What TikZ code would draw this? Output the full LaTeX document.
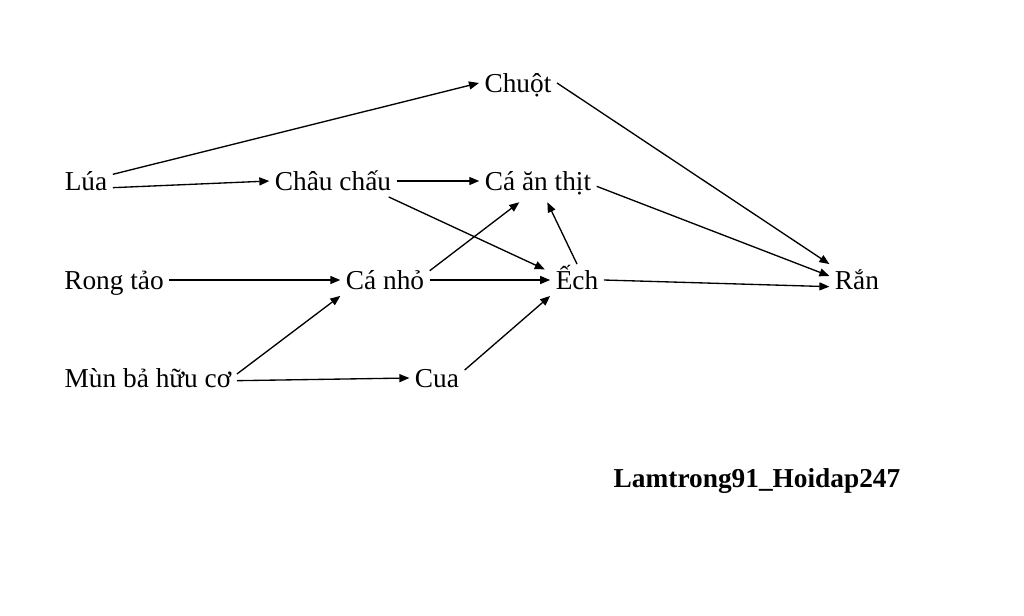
\documentclass[tikz,border=0pt]{standalone}
\usepackage{fontspec}
\setmainfont{Liberation Serif}
\usetikzlibrary{arrows.meta}

\begin{document}
\begin{tikzpicture}[x=0.75pt, y=-0.75pt, font=\fontsize{20.5}{24}\selectfont,
  lbl/.style={anchor=base, text height=13.5pt, text depth=0pt, inner xsep=4pt, inner ysep=5pt},
  arr/.style={-{Triangle[length=7.5pt,width=6pt]}, line width=1pt}]
  \useasboundingbox (0,0) rectangle (1024,615);
  % Species (name/x/baseline/label)
  \foreach \n/\x/\y/\t in {
    chuot/518/92/Chuột,
    lua/86/190/Lúa, chau/333/190/Châu chấu, caan/538/190/Cá ăn thịt,
    rong/114/289/Rong tảo, canho/385/289/Cá nhỏ, ech/577/289/Ếch, ran/857/289/Rắn,
    mun/148/387/Mùn bả hữu cơ, cua/437/387/Cua
  } {
    \node[lbl] (\n) at (\x,\y) {\t};
  }
  % Watermark
  \node[anchor=base, font=\fontsize{20.5}{24}\selectfont\bfseries] (sign) at (757,487) {Lamtrong91\_Hoidap247};
  % Row 1 and 2
  \draw[arr] (lua) -- (chuot.west);
  \draw[arr] ([yshift=-5pt]lua.east) -- (chau.west);
  \draw[arr] (chau.east) -- (caan.west);
  \draw[arr] ([xshift=-6pt]chau.south east) -- ([xshift=-4pt,yshift=-4pt]ech.north west);
  \draw[arr] (chuot.east) -- (ran.north west);
  \draw[arr] ([yshift=-4pt]caan.east) -- ([yshift=3pt]ran.west);
  % Row 3
  \draw[arr] (rong) -- (canho);
  \draw[arr] (canho) -- (ech);
  \draw[arr] ([yshift=-5pt]canho.north east) -- ([xshift=-14pt,yshift=-4pt]caan.south);
  \draw[arr] (ech.north) -- ([xshift=7pt,yshift=-4pt]caan.south);
  \draw[arr] (ech.east) -- ([yshift=-5pt]ran.west);
  % Row 4
  \draw[arr] ([yshift=3pt]mun.east) -- (canho.south west);
  \draw[arr] ([yshift=-2pt]mun.east) -- (cua.west);
  \draw[arr] ([yshift=-6pt]cua.north east) -- (ech.south west);
\end{tikzpicture}
\end{document}
